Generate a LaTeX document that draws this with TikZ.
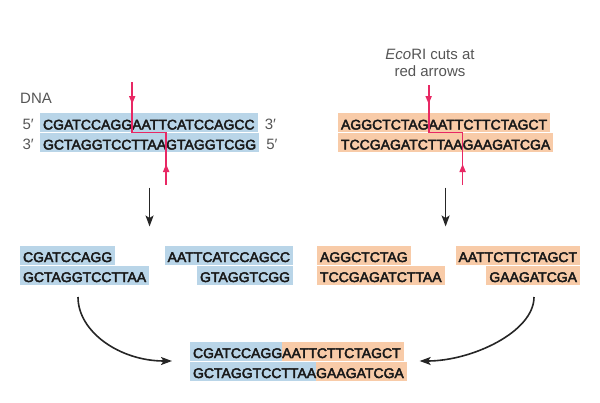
\documentclass[tikz,border=0pt]{standalone}
\usepackage{fontspec}
\setmainfont{Liberation Sans}
\newfontfamily\seqfont[FakeBold=3]{Liberation Sans}
\usetikzlibrary{positioning,calc,arrows.meta,backgrounds}
\definecolor{dnablue}{RGB}{185,213,232}
\definecolor{dnaorange}{RGB}{248,203,168}
\definecolor{cutpink}{RGB}{232,40,100}
\definecolor{labelgray}{RGB}{85,85,85}
\definecolor{seqtext}{RGB}{25,25,25}

\begin{document}
\begin{tikzpicture}[x=1pt,y=-1pt,
    seq/.style={font=\seqfont\fontsize{14}{14}\selectfont,text=seqtext,
      inner sep=0pt,outer sep=0pt,text height=17pt,text depth=3pt},
    lbl/.style={font=\fontsize{15}{17}\selectfont,text=labelgray,inner sep=0pt},
    cutline/.style={cutpink,line width=1.8pt},
    cuttip/.style={cutline,-{Triangle[length=8pt,width=6pt]}},
    flow/.style={black!85,line width=1.6pt,-{Stealth[length=11pt,width=8pt,inset=2.5pt]}}]
  \useasboundingbox (0,0) rectangle (600,402) ;
  % uncut DNA, left (blue) and right (orange)
  \node[seq,anchor=west] (t1a) at (43,122.5) {CGATCCAGG} ;
  \node[seq,right=0pt of t1a] (t1b) {AATTCATCCAGCC} ;
  \node[seq,anchor=north west] (b1a) at (t1a.south west) {GCTAGGTCCTTAA} ;
  \node[seq,right=0pt of b1a] (b1b) {GTAGGTCGG} ;
  \node[seq,anchor=west] (t2a) at (341,122.5) {AGGCTCTAG} ;
  \node[seq,right=0pt of t2a] (t2b) {AATTCTTCTAGCT} ;
  \node[seq,anchor=north west] (b2a) at (t2a.south west) {TCCGAGATCTTAA} ;
  \node[seq,right=0pt of b2a] (b2b) {GAAGATCGA} ;
  % labels
  \node[lbl,anchor=west] (dna) at (20,98) {DNA} ;
  \node[lbl,anchor=base east] (p5a) at ([xshift=-9pt]t1a.base west) {5′} ;
  \node[lbl,anchor=base west] (p3a) at ([xshift=10pt]t1b.base east) {3′} ;
  \node[lbl,anchor=base east] (p3b) at ([xshift=-9pt]b1a.base west) {3′} ;
  \node[lbl,anchor=base west] (p5b) at ([xshift=10pt]b1b.base east) {5′} ;
  \node[lbl,align=center] (eco) at (430,63) {\textit{Eco}RI cuts at\\red arrows} ;
  % fragments
  \node[seq,anchor=west] (f1t) at (23,255) {CGATCCAGG} ;
  \node[seq,anchor=north west] (f1b) at (f1t.south west) {GCTAGGTCCTTAA} ;
  \node[seq,anchor=east] (f2t) at (290,255) {AATTCATCCAGCC} ;
  \node[seq,anchor=north east] (f2b) at (f2t.south east) {GTAGGTCGG} ;
  \node[seq,anchor=west] (f3t) at (320,255) {AGGCTCTAG} ;
  \node[seq,anchor=north west] (f3b) at (f3t.south west) {TCCGAGATCTTAA} ;
  \node[seq,anchor=east] (f4t) at (577,255) {AATTCTTCTAGCT} ;
  \node[seq,anchor=north east] (f4b) at (f4t.south east) {GAAGATCGA} ;
  % joined molecule
  \node[seq,anchor=west] (ca) at (193,351) {CGATCCAGG} ;
  \node[seq,right=0pt of ca] (cb) {AATTCTTCTAGCT} ;
  \node[seq,anchor=north west] (cc) at (ca.south west) {GCTAGGTCCTTAA} ;
  \node[seq,right=0pt of cc] (cd) {GAAGATCGA} ;
  \begin{scope}[on background layer]
    \fill[dnablue] ([xshift=-3pt,yshift=-.5pt]t1a.north west) rectangle ([xshift=3pt,yshift=.5pt]t1b.south east) ;
    \fill[dnablue] ([xshift=-3pt,yshift=-.5pt]b1a.north west) rectangle ([xshift=3pt,yshift=.5pt]b1b.south east) ;
    \fill[dnaorange] ([xshift=-3pt,yshift=-.5pt]t2a.north west) rectangle ([xshift=3pt,yshift=.5pt]t2b.south east) ;
    \fill[dnaorange] ([xshift=-3pt,yshift=-.5pt]b2a.north west) rectangle ([xshift=3pt,yshift=.5pt]b2b.south east) ;
    \foreach \n in {f1t,f1b,f2t,f2b}
      \fill[dnablue] ([xshift=-3pt,yshift=-.5pt]\n.north west) rectangle ([xshift=3pt,yshift=.5pt]\n.south east) ;
    \foreach \n in {f3t,f3b,f4t,f4b}
      \fill[dnaorange] ([xshift=-3pt,yshift=-.5pt]\n.north west) rectangle ([xshift=3pt,yshift=.5pt]\n.south east) ;
    \fill[dnablue] ([xshift=-3pt,yshift=-.5pt]ca.north west) rectangle ([yshift=.5pt]ca.south east) ;
    \fill[dnaorange] ([yshift=-.5pt]cb.north west) rectangle ([xshift=3pt,yshift=.5pt]cb.south east) ;
    \fill[dnablue] ([xshift=-3pt,yshift=-.5pt]cc.north west) rectangle ([yshift=.5pt]cc.south east) ;
    \fill[dnaorange] ([yshift=-.5pt]cd.north west) rectangle ([xshift=3pt,yshift=.5pt]cd.south east) ;
  \end{scope}
  % EcoRI cuts
  \coordinate (cutLtop) at (t1a.east |- 0,82) ;
  \coordinate (cutLbot) at (b1a.east |- 0,185) ;
  \coordinate (cutRtop) at (t2a.east |- 0,85) ;
  \coordinate (cutRbot) at (b2a.east |- 0,185) ;
  \draw[cutline] (cutLtop) -- (t1a.south east) -- (b1a.north east) -- (cutLbot) ;
  \draw[cuttip] (cutLtop) -- ++(0,22) ;
  \draw[cuttip] (cutLbot) -- ++(0,-21) ;
  \draw[cutline] (cutRtop) -- (t2a.south east) -- (b2a.north east) -- (cutRbot) ;
  \draw[cuttip] (cutRtop) -- ++(0,19) ;
  \draw[cuttip] (cutRbot) -- ++(0,-21) ;
  % steps
  \coordinate (midL) at ($(b1a.west)!.5!(b1b.east)$) ;
  \coordinate (midR) at ($(b2a.west)!.5!(b2b.east)$) ;
  \draw[flow] ($(midL)+(0,45)$) -- ($(midL)+(0,84)$) ;
  \draw[flow] ($(midR)+(0,45)$) -- ($(midR)+(0,84)$) ;
  \draw[flow] ($(f1b.south west)+(55,12)$) .. controls +(0,35) and +(-52,0) .. ($(ca.south west)+(-21,0)$) ;
  \draw[flow] ($(f4b.south east)+(-43,12)$) .. controls +(0,35) and +(52,0) .. ($(cb.south east)+(19,0)$) ;
\end{tikzpicture}
\end{document}
